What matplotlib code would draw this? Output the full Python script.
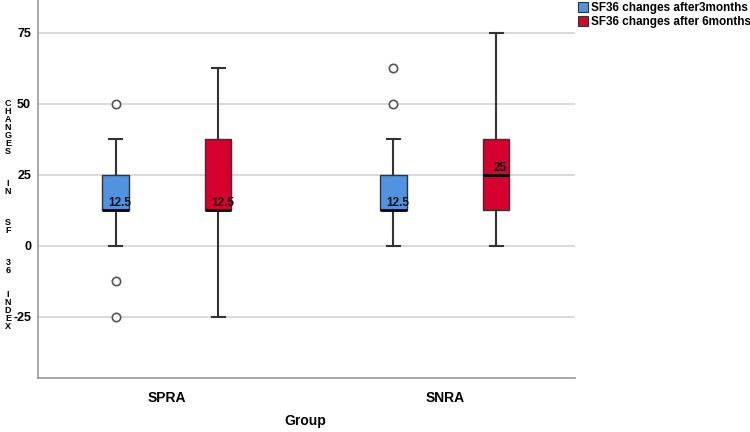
import matplotlib.pyplot as plt
from matplotlib.patches import Patch

# Box summary values (per series, per group)
groups = ['SPRA', 'SNRA']
series = ['SF36 changes after3months', 'SF36 changes after 6months']
colors = ['#5193E0', '#D5002D']

medians = [[12.5, 12.5], [12.5, 25]]
q1 = [[12.5, 12.5], [12.5, 12.5]]
q3 = [[25, 25], [37.5, 37.5]]
whis_lo = [[0, 0], [-25, 0]]
whis_hi = [[37.5, 37.5], [62.5, 75]]
outliers = [[[50, -12.5, -25], [50, 62.5]], [[], []]]
median_labels = [['12.5', '12.5'], ['12.5', '25']]

yticks = [-25, 0, 25, 50, 75]

plt.rcParams['font.family'] = ['Liberation Sans', 'DejaVu Sans']

fig = plt.figure(figsize=(7.5, 4.32), dpi=100)
ax = fig.add_axes([38 / 750, 54 / 432, 537 / 750, 378 / 432])

offsets = [-0.185, 0.185]
for s in range(len(series)):
    stats = []
    for g in range(len(groups)):
        stats.append(dict(med=medians[s][g], q1=q1[s][g], q3=q3[s][g],
                          whislo=whis_lo[s][g], whishi=whis_hi[s][g],
                          fliers=outliers[s][g]))
    pos = [g + 1 + offsets[s] for g in range(len(groups))]
    ax.bxp(stats, positions=pos, widths=0.094, patch_artist=True,
           showfliers=True, capwidths=0.045,
           boxprops=dict(facecolor=colors[s], edgecolor='#333333', linewidth=1),
           medianprops=dict(color='black', linewidth=2),
           whiskerprops=dict(color='#333333', linewidth=1.5),
           capprops=dict(color='#333333', linewidth=1.5),
           flierprops=dict(marker='o', markersize=6, markerfacecolor='white',
                           markeredgecolor='#555555', markeredgewidth=1.2),
           zorder=3)
    for g in range(len(groups)):
        ax.text(pos[g] + 0.015, medians[s][g] + 0.5, median_labels[s][g],
                ha='center', va='bottom', fontsize=8.5, fontweight='bold',
                color='#111111', zorder=4)

ax.set_xlim(0.536, 2.468)
ax.set_ylim(-46.5, 86.6)
ax.set_xticks([1, 2])
ax.set_xticklabels(groups, fontsize=10, fontweight='bold')
ax.set_yticks(yticks)
ax.set_yticklabels([str(t) for t in yticks], fontsize=9, fontweight='bold')
ax.tick_params(length=0, pad=5)
ax.tick_params(axis='x', pad=9)
ax.grid(axis='y', color='#d4d4d4', linewidth=1.2, zorder=0)
ax.set_axisbelow(True)
for side in ['top', 'right']:
    ax.spines[side].set_visible(False)
for side in ['left', 'bottom']:
    ax.spines[side].set_color('#999999')
    ax.spines[side].set_linewidth(1.2)

fig.text(305 / 750, 1 - 421 / 432, 'Group', ha='center', va='center',
         fontsize=10, fontweight='bold')

# stacked y label, one character per line
ylabel_text = '\n'.join('CHANGES   IN   SF   36  INDEX')
fig.text(8 / 750, 1 - 215 / 432, ylabel_text, ha='center', va='center',
         multialignment='center', fontsize=6.5, fontweight='bold',
         linespacing=0.85)

handles = [Patch(facecolor=c, edgecolor='#333333', linewidth=0.8) for c in colors]
fig.legend(handles, series, loc='upper left', bbox_to_anchor=(571 / 750, 1.012),
           frameon=False, prop=dict(weight='bold', size=8.5),
           handlelength=0.8, handleheight=0.9, handletextpad=0.3,
           labelspacing=0.2, borderaxespad=0.2)

fig.savefig('out.png', dpi=100)
